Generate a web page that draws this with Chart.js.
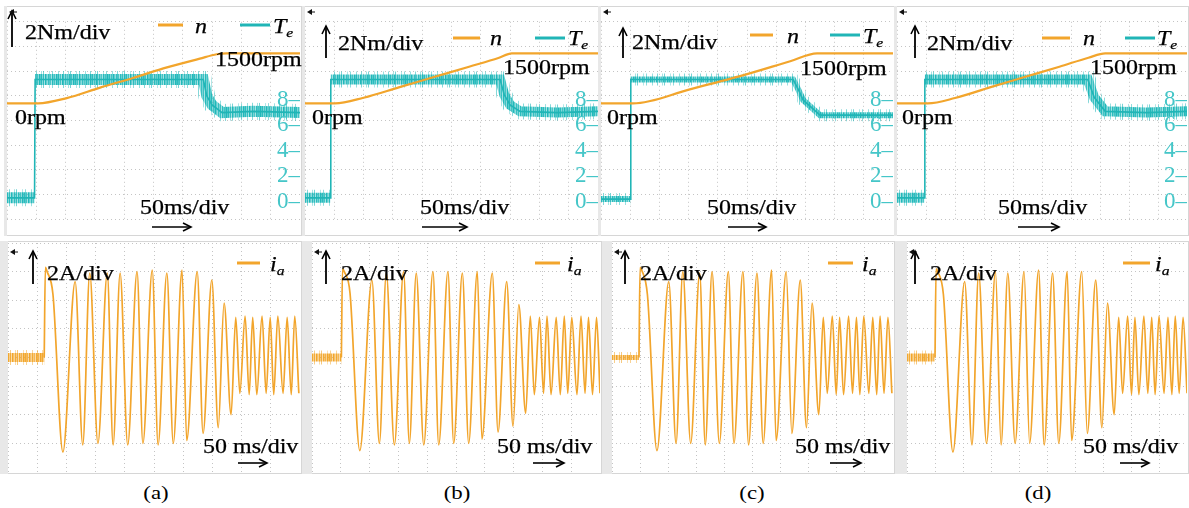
<!DOCTYPE html>
<html>
<head>
<meta charset="utf-8">
<title>Startup torque, speed and phase current</title>
<script src="https://cdn.jsdelivr.net/npm/chart.js@4.4.1/dist/chart.umd.min.js"></script>
<style>
  html, body { margin: 0; padding: 0; background: #fff; }
  #stage { position: relative; width: 1189px; height: 508px; overflow: hidden;
           font-family: "Liberation Serif", "Times New Roman", serif; }
  .box { position: absolute; border: 1px solid #d6d6d6; box-sizing: border-box; background: #fff; }
  .strip { position: absolute; background: #e8e8e8; }
  .plot { position: absolute; }
  .lbl { position: absolute; white-space: nowrap; font-size: 20px; line-height: 20px; color: #000;
         transform-origin: 0 0; transform: scaleX(1.2); -webkit-text-stroke: 0.25px #000; }
  .lbl sub { font-size: 13px; vertical-align: -4px; font-style: italic; }
  .tag { position: absolute; width: 40px; text-align: center; font-size: 19px; line-height: 20px;
         transform: scaleX(1.2); }
  #marks { position: absolute; left: 0; top: 0; }
</style>
</head>
<body>
<div id="stage"><svg id="marks" width="1189" height="508"></svg></div>
<script>
// ---- data: time in ms (10 div x 50 ms), torque in Nm, speed in rpm, current in A ----
const TIME_MAX = 500;
const T_TICKS = [0, 2, 4, 6, 8];

// (a)
const teTimeA = [0, 47, 48, 335, 341, 350, 367, 420, 500];
const teA     = [0.3, 0.3, 9.6, 9.6, 8.3, 7.6, 7.0, 7.1, 7.0];
const nTimeA  = [0, 53, 102, 159, 215, 273, 329, 358, 375, 500];
const nA      = [0, 0, 158, 474, 763, 1079, 1342, 1474, 1500, 1500];
const iaIdleA = 62;
const iaTimeA = [62, 64, 67, 77, 94, 115, 128, 140, 154, 170, 180, 192, 205, 221, 231, 247, 257, 272, 283, 298, 306, 324,
                 334, 349, 360, 370, 382, 390, 397, 406, 413, 419, 426, 435, 442, 449, 455, 462, 471, 478, 485, 491, 498];
const iaA     = [0, 6.3, 6.0, 4.4, -6.6, 5.3, -6.1, 5.9, -6.0, 5.9, -6.1, 5.9, -6.1, 6.0, -6.0, 6.1, -6.1, 5.9, -6.0, 6.1, -5.8, 6.0,
                 -5.3, 5.4, -4.9, 3.8, -4.0, 2.8, -2.5, 2.9, -2.6, 2.8, -2.6, 2.9, -2.5, 2.8, -2.6, 2.9, -2.5, 2.8, -2.6, 2.9, -2.5];

// (b)
const teTimeB = [0, 43, 44, 333, 340, 350, 367, 430, 500];
const teB     = [0.3, 0.3, 9.6, 9.6, 8.4, 7.6, 7.1, 7.0, 7.1];
const nTimeB  = [0, 51, 100, 160, 220, 280, 330, 353, 500];
const nB      = [0, 0, 170, 480, 790, 1100, 1360, 1500, 1500];
const iaIdleB = 51;
const iaTimeB = [51, 53, 56, 66, 83, 104, 117, 129, 143, 159, 169, 181, 194, 210, 220, 236, 246, 261, 272, 287, 295, 313,
                 323, 338, 349, 359, 371, 379, 386, 395, 402, 408, 415, 424, 431, 438, 444, 451, 460, 467, 474, 480, 487, 494, 500];
const iaB     = [0, 6.2, 6.0, 4.5, -6.5, 5.4, -6.0, 5.9, -6.1, 6.0, -6.0, 5.9, -6.1, 6.0, -6.1, 6.0, -6.0, 5.9, -6.0, 6.0, -5.7, 5.9,
                 -5.2, 5.3, -4.8, 3.7, -3.9, 2.9, -2.6, 2.8, -2.5, 2.9, -2.6, 2.8, -2.6, 2.9, -2.5, 2.8, -2.6, 2.9, -2.5, 2.8, -2.6, 2.8, -2.5];

// (c)
const teTimeC = [0, 50, 51, 329, 338, 346, 375, 430, 500];
const teC     = [0.2, 0.2, 9.6, 9.6, 8.8, 8.0, 6.8, 6.8, 6.8];
const nTimeC  = [0, 55, 152, 238, 324, 370, 500];
const nC      = [0, 0, 421, 816, 1263, 1500, 1500];
const iaIdleC = 48;
const iaTimeC = [48, 50, 53, 63, 80, 101, 114, 126, 140, 156, 166, 178, 191, 207, 217, 233, 243, 258, 269, 284, 292, 310,
                 320, 335, 346, 356, 368, 376, 383, 392, 399, 405, 412, 421, 428, 435, 441, 448, 457, 464, 471, 477, 484, 491, 498];
const iaC     = [0, 6.3, 6.1, 4.4, -6.5, 5.3, -6.0, 6.0, -6.0, 5.9, -6.1, 6.0, -6.0, 6.0, -6.0, 6.0, -6.1, 5.9, -6.0, 6.1, -5.8, 6.0,
                 -5.3, 5.4, -4.9, 3.8, -4.0, 2.8, -2.5, 2.9, -2.6, 2.8, -2.6, 2.9, -2.5, 2.8, -2.6, 2.9, -2.5, 2.8, -2.6, 2.9, -2.5, 2.8, -2.5];

// (d)
const teTimeD = [0, 47, 48, 329, 340, 359, 430, 500];
const teD     = [0.3, 0.3, 9.6, 9.6, 8.2, 7.1, 7.0, 7.1];
const nTimeD  = [0, 53, 100, 160, 220, 280, 330, 359, 500];
const nD      = [0, 0, 160, 480, 790, 1100, 1370, 1500, 1500];
const iaIdleD = 50;
const iaTimeD = [50, 52, 55, 65, 82, 103, 116, 128, 142, 158, 168, 180, 193, 209, 219, 235, 245, 260, 271, 286, 294, 312,
                 322, 337, 348, 358, 370, 378, 385, 394, 401, 407, 414, 423, 430, 437, 443, 450, 459, 466, 473, 479, 486, 493, 500];
const iaD     = [0, 6.2, 6.0, 4.4, -6.6, 5.3, -6.1, 5.9, -6.0, 6.0, -6.1, 5.9, -6.0, 6.0, -6.0, 6.1, -6.1, 5.9, -6.0, 6.0, -5.8, 6.0,
                 -5.3, 5.4, -4.9, 3.8, -4.0, 2.8, -2.5, 2.9, -2.6, 2.8, -2.6, 2.9, -2.5, 2.8, -2.6, 2.9, -2.5, 2.8, -2.6, 2.9, -2.5, 2.8, -2.5];

// ---- colours ----
const TEAL = '#20b5b6';
const TEAL_RGB = '32, 184, 186';
const TEAL_TEXT = '#45c6c8';
const ORANGE = '#f2a52c';
const ORANGE_RGB = '242, 165, 40';
const GRID = '#c4c4c4';

// column alpha profiles used to texture the noisy trace bands
const CORE_STREAKS = [0.95, 0.55, 0.85, 0.4, 1, 0.7, 0.5, 0.9, 0.6, 0.8, 0.4, 0.95, 0.65, 0.85, 0.5, 1, 0.75];
const SPIKE_STREAKS = [0, 0, 0.55, 0, 0, 0, 0, 0.4, 0, 0.6, 0, 0, 0, 0, 0, 0.35, 0, 0, 0.5, 0, 0, 0, 0, 0, 0.45, 0, 0];

// ---- panel layout ----
const COLS = [
  { top: [7, 293], bot: [8, 292], strip: [0, 8], band: 11, tag: '(a)', tagX: 156,
    up: [12, 10, 47], nm: [25, 38], leg: [25, 158, 183, 195, 240, 270, 273, 32], rpm: [215, 65], zero: 15, ms: 140, arT: [152, 192],
    upB: 33, amp: 47, legB: [237, 260, 270], msB: 203, arB: [238, 268],
    te: [teTimeA, teA], n: [nTimeA, nA], ia: [iaTimeA, iaA], idle: iaIdleA },
  { top: [305, 293], bot: [312, 288], strip: [302, 10], band: 10, tag: '(b)', tagX: 457,
    up: [326, 25, 58], nm: [338, 49], leg: [38, 453, 480, 490, 535, 565, 568, 44], rpm: [503, 73], zero: 312, ms: 420, arT: [422, 468],
    upB: 326, amp: 341, legB: [535, 560, 567], msB: 497, arB: [533, 565],
    te: [teTimeB, teB], n: [nTimeB, nB], ia: [iaTimeB, iaB], idle: iaIdleB },
  { top: [601, 292], bot: [612, 281], strip: [602, 10], band: 6, tag: '(c)', tagX: 752,
    up: [623, 27, 58], nm: [632, 48], leg: [35, 750, 773, 787, 830, 860, 863, 42], rpm: [800, 74], zero: 607, ms: 707, arT: [728, 767],
    upB: 625, amp: 640, legB: [828, 853, 862], msB: 795, arB: [830, 862],
    te: [teTimeC, teC], n: [nTimeC, nC], ia: [iaTimeC, iaC], idle: iaIdleC },
  { top: [897, 290], bot: [907, 280], strip: [895, 12], band: 10, tag: '(d)', tagX: 1038,
    up: [915, 25, 58], nm: [927, 49], leg: [38, 1042, 1070, 1083, 1125, 1155, 1157, 44], rpm: [1090, 73], zero: 902, ms: 998, arT: [1018, 1060],
    upB: 915, amp: 930, legB: [1123, 1150, 1155], msB: 1083, arB: [1120, 1150],
    te: [teTimeD, teD], n: [nTimeD, nD], ia: [iaTimeD, iaD], idle: iaIdleD }
];
const TOP_Y = 8, TOP_H = 225;
const BOT_Y = 243, BOT_H = 229;

const stage = document.getElementById('stage');
const svg = document.getElementById('marks');
const NS = 'http://www.w3.org/2000/svg';

const pts = (ts, vs) => ts.map((t, k) => ({ x: t, y: vs[k] }));

// noise band follows the trace but leaves the switch-on edge thin
function bandOf(ts, vs) {
  const out = [];
  ts.forEach((t, k) => {
    if (k > 0 && Math.abs(vs[k] - vs[k - 1]) > 5) out.push({ x: t, y: null });
    out.push({ x: t, y: vs[k] });
  });
  return out;
}

// vertical streak texture: one pixel column per alpha value
function streaks(rgb, alphas) {
  const c = document.createElement('canvas');
  c.width = alphas.length; c.height = 1;
  const g = c.getContext('2d');
  alphas.forEach((a, i) => { g.fillStyle = `rgba(${rgb}, ${a})`; g.fillRect(i, 0, 1, 1); });
  return g.createPattern(c, 'repeat');
}

function div(cls, x, y, w, h) {
  const d = document.createElement('div');
  d.className = cls;
  Object.assign(d.style, { left: x + 'px', top: y + 'px' });
  if (w != null) d.style.width = w + 'px';
  if (h != null) d.style.height = h + 'px';
  stage.insertBefore(d, svg);
  return d;
}

function label(x, base, html) {
  const d = document.createElement('div');
  d.className = 'lbl';
  d.style.left = x + 'px';
  d.style.top = (base - 16.5) + 'px';
  d.innerHTML = html;
  stage.appendChild(d);
}

function line(x1, y1, x2, y2, color, w) {
  const l = document.createElementNS(NS, 'line');
  l.setAttribute('x1', x1); l.setAttribute('y1', y1);
  l.setAttribute('x2', x2); l.setAttribute('y2', y2);
  l.setAttribute('stroke', color); l.setAttribute('stroke-width', w);
  svg.appendChild(l);
}
function head(points) {
  const p = document.createElementNS(NS, 'polyline');
  p.setAttribute('points', points);
  p.setAttribute('fill', 'none'); p.setAttribute('stroke', '#000'); p.setAttribute('stroke-width', 1.6);
  svg.appendChild(p);
}
function upArrow(x, y1, y2) {
  line(x, y1 + 1, x, y2, '#000', 1.8);
  head(`${x - 4},${y1 + 9} ${x},${y1 + 1} ${x + 4},${y1 + 9}`);
}
function rightArrow(x1, x2, y) {
  line(x1, y, x2 - 1, y, '#000', 1.6);
  head(`${x2 - 9},${y - 4} ${x2 - 1},${y} ${x2 - 9},${y + 4}`);
}
function marker(x, y) {
  const p = document.createElementNS(NS, 'polygon');
  p.setAttribute('points', `${x},${y} ${x + 5},${y - 3} ${x + 5},${y + 3}`);
  p.setAttribute('fill', '#111');
  svg.appendChild(p);
  line(x + 4, y, x + 8, y, '#111', 1);
}

function canvasIn(x, y, w, h) {
  const wrap = div('plot', x, y, w, h);
  const c = document.createElement('canvas');
  c.width = w; c.height = h;
  wrap.appendChild(c);
  return c;
}

const gridScale = (max, step) => ({
  type: 'linear', min: 0, max: max,
  ticks: { display: false, stepSize: step },
  grid: { color: GRID, lineWidth: 1, drawTicks: false },
  border: { display: false, dash: [1, 3] }
});

const baseOptions = () => ({
  responsive: false,
  animation: false,
  events: [],
  layout: { padding: 0 },
  plugins: { legend: { display: false }, tooltip: { enabled: false } },
  elements: { point: { radius: 0 } }
});

function torqueChart(canvas, col) {
  const opts = baseOptions();
  opts.scales = {
    x: gridScale(TIME_MAX, 50),
    yGrid: Object.assign(gridScale(8, 1), { position: 'left' }),
    // torque axis: 0 Nm sits 20 px above the bottom edge, 2 Nm per 29 px
    yT: {
      type: 'linear', position: 'right', min: -1.38, max: 14.14,
      afterBuildTicks: s => { s.ticks = T_TICKS.map(v => ({ value: v })); },
      afterFit: s => { s.width = 0; },
      grid: { display: false, drawTicks: false },
      border: { display: false },
      ticks: { mirror: true, padding: 0, z: 1, color: TEAL_TEXT,
               font: { family: 'Liberation Serif', size: 23 }, callback: v => v + '\u2013' }
    },
    // speed axis: 0 rpm and 1500 rpm land on the annotated levels
    yN: { type: 'linear', display: false, min: -3474, max: 2447 }
  };
  const band = bandOf(col.te[0], col.te[1]);
  return new Chart(canvas, {
    type: 'line',
    data: {
      datasets: [
        { label: 'n', data: pts(col.n[0], col.n[1]), yAxisID: 'yN', borderColor: ORANGE, borderWidth: 2.2,
          cubicInterpolationMode: 'monotone' },
        { label: 'Te', data: pts(col.te[0], col.te[1]), yAxisID: 'yT', borderColor: TEAL, borderWidth: 1.6 },
        { label: 'Te noise', data: band, yAxisID: 'yT', borderColor: streaks(TEAL_RGB, CORE_STREAKS),
          borderWidth: col.band, spanGaps: false, borderCapStyle: 'butt' },
        { label: 'Te spikes', data: band, yAxisID: 'yT', borderColor: streaks(TEAL_RGB, SPIKE_STREAKS),
          borderWidth: col.band + 6, spanGaps: false, borderCapStyle: 'butt' }
      ]
    },
    options: opts
  });
}

function currentChart(canvas, col) {
  const opts = baseOptions();
  opts.scales = {
    x: gridScale(TIME_MAX, 50),
    y: Object.assign(gridScale(8, 1), { min: -8, max: 8, ticks: { display: false, stepSize: 2 } })
  };
  const idle = [{ x: 0, y: 0 }, { x: col.idle, y: 0 }];
  return new Chart(canvas, {
    type: 'line',
    data: {
      datasets: [
        { label: 'ia', data: pts(col.ia[0], col.ia[1]), borderColor: ORANGE, borderWidth: 1.7,
          cubicInterpolationMode: 'monotone' },
        { label: 'ia idle', data: idle, borderColor: streaks(ORANGE_RGB, CORE_STREAKS),
          borderWidth: Math.max(5, col.band - 2), borderCapStyle: 'butt' },
        { label: 'ia idle spikes', data: idle, borderColor: streaks(ORANGE_RGB, SPIKE_STREAKS),
          borderWidth: Math.max(5, col.band - 2) + 6, borderCapStyle: 'butt' }
      ]
    },
    options: opts
  });
}

COLS.forEach(col => {
  // frames
  div('box', col.top[0] - 3, TOP_Y - 2, col.top[1] + 5, TOP_H + 5);
  div('strip', col.top[0] - 3, TOP_Y - 2, 3, TOP_H + 5);
  div('box', col.strip[0], BOT_Y - 2, col.strip[1] + col.bot[1] + 2, BOT_H + 4);
  div('strip', col.strip[0], BOT_Y - 2, col.strip[1], BOT_H + 4);

  torqueChart(canvasIn(col.top[0], TOP_Y, col.top[1], TOP_H), col);
  currentChart(canvasIn(col.bot[0], BOT_Y, col.bot[1], BOT_H), col);

  // torque / speed annotations
  upArrow(col.up[0], col.up[1], col.up[2]);
  label(col.nm[0], col.nm[1], '2Nm/div');
  const lg = col.leg;
  line(lg[1], lg[0], lg[2], lg[0], ORANGE, 3);
  label(lg[3], lg[7], '<i>n</i>');
  line(lg[4], lg[0], lg[5], lg[0], TEAL, 3);
  label(lg[6], lg[7], '<i>T</i><sub>e</sub>');
  label(col.rpm[0], col.rpm[1], '1500rpm');
  label(col.zero, 123, '0rpm');
  label(col.ms, 213, '50ms/div');
  rightArrow(col.arT[0], col.arT[1], 227);
  marker(col.top[0] + 2, TOP_Y + 4);

  // current annotations
  upArrow(col.upB, 250, 284);
  label(col.amp, 279, '2A/div');
  line(col.legB[0], 263, col.legB[1], 263, ORANGE, 3);
  label(col.legB[2], 270, '<i>i</i><sub>a</sub>');
  label(col.msB, 452, '50 ms/div');
  rightArrow(col.arB[0], col.arB[1], 463);
  marker(col.bot[0] + 2, BOT_Y + 9);

  const t = div('tag', col.tagX - 20, 483);
  t.textContent = col.tag;
});
</script>
</body>
</html>
